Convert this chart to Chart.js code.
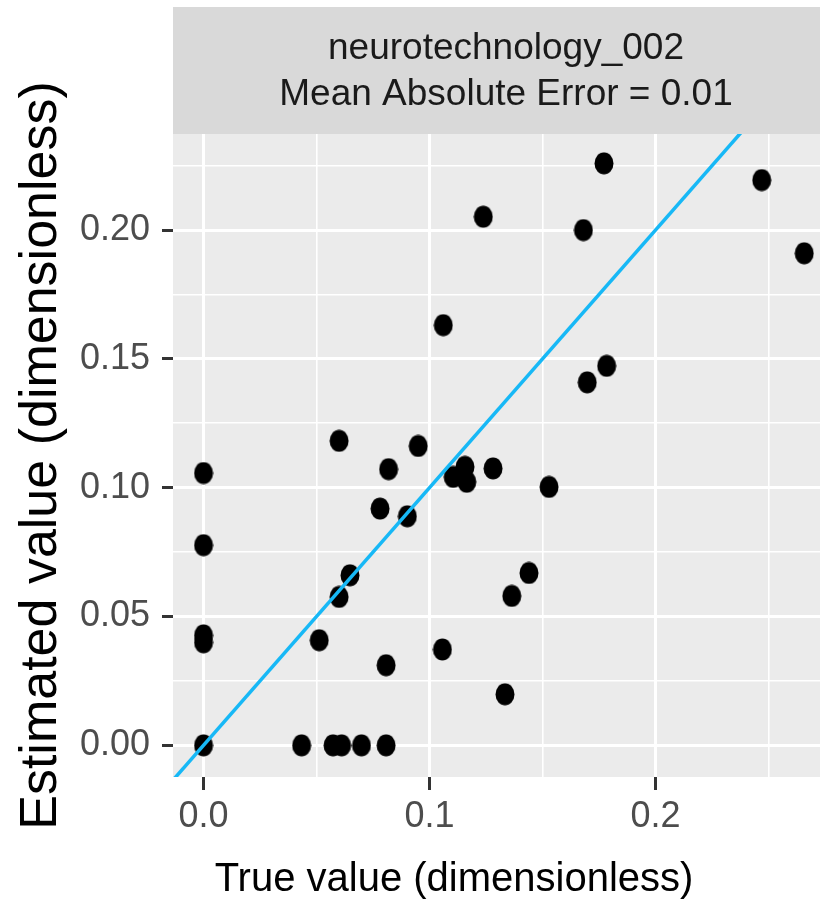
<!DOCTYPE html>
<html>
<head>
<meta charset="utf-8">
<script src="https://cdn.jsdelivr.net/npm/chart.js@4/dist/chart.umd.min.js"></script>
<style>
  html, body { margin: 0; padding: 0; background: #ffffff; overflow: hidden; width: 820px; height: 904px; }
  #wrap { width: 850px; height: 904px; }
</style>
</head>
<body>
<div id="wrap"><canvas id="chart" width="850" height="904"></canvas></div>
<script>
// Facet strip and axis titles
const facetTitle = 'neurotechnology_002';
const facetSubtitle = 'Mean Absolute Error = 0.01';
const xTitle = 'True value (dimensionless)';
const yTitle = 'Estimated value (dimensionless)';

// Observations: true value vs. estimated value
const trueValues = [
  0.1772, 0.2470, 0.2658, 0.1238, 0.1681, 0.1061, 0.1784, 0.1698, 0.0600, 0.0950,
  0.0000, 0.0819, 0.1157, 0.1105, 0.1165, 0.1281, 0.1529, 0.0781, 0.0902, 0.0000,
  0.0648, 0.0600, 0.1440, 0.1364, 0.0000, 0.0000, 0.0512, 0.0808, 0.1057, 0.1334,
  0.0000, 0.0434, 0.0573, 0.0611, 0.0699, 0.0808
];
const estimatedValues = [
  0.2259, 0.2194, 0.1910, 0.2052, 0.2000, 0.1631, 0.1473, 0.1409, 0.1182, 0.1162,
  0.1057, 0.1072, 0.1081, 0.1042, 0.1023, 0.1075, 0.1003, 0.0919, 0.0889, 0.0777,
  0.0660, 0.0576, 0.0669, 0.0580, 0.0427, 0.0400, 0.0408, 0.0311, 0.0372, 0.0198,
  0.0000, 0.0000, 0.0000, 0.0000, 0.0000, 0.0000
];

// Axis ticks (major ones are labelled, minor ones only get a thin grid line)
const xMajorTicks = [0, 0.1, 0.2];
const xMinorTicks = [0.05, 0.15, 0.25];
const yMajorTicks = [0, 0.05, 0.1, 0.15, 0.2];
const yMinorTicks = [0.025, 0.075, 0.125, 0.175, 0.225];
const xLimits = [-0.0135, 0.2812];
const yLimits = [-0.0123, 0.2373];

// End points of the y = x reference line (clipped to the panel)
const identityRange = [-0.05, 0.35];

const FONT = 'Liberation Sans';

// Round marker, slightly taller than wide
function makeMarker(w, h, color) {
  const c = document.createElement('canvas');
  c.width = w; c.height = h;
  const g = c.getContext('2d');
  g.fillStyle = color;
  g.beginPath();
  g.ellipse(w / 2, h / 2, w / 2 - 0.5, h / 2 - 0.5, 0, 0, Math.PI * 2);
  g.fill();
  return c;
}
const marker = makeMarker(20, 23, '#000000');

function tickList(major, minor) {
  return major.concat(minor).sort((a, b) => a - b).map(v => ({ value: v }));
}

// Grey panel, facet strip with its two-line label, and the x-axis title
const panelAndStrip = {
  id: 'panelAndStrip',
  beforeDraw(chart) {
    const { ctx, chartArea: a } = chart;
    ctx.save();
    ctx.fillStyle = '#ebebeb';
    ctx.fillRect(a.left, a.top, a.right - a.left, a.bottom - a.top);
    const stripTop = a.top - 127;
    ctx.fillStyle = '#d9d9d9';
    ctx.fillRect(a.left, stripTop, a.right - a.left, a.top - stripTop);
    ctx.fillStyle = '#1a1a1a';
    ctx.font = '37px "' + FONT + '"';
    ctx.textAlign = 'center';
    ctx.textBaseline = 'middle';
    const cx = (a.left + a.right) / 2;
    ctx.fillText(facetTitle, cx, a.top - 85);
    ctx.fillText(facetSubtitle, cx, a.top - 39);

    ctx.fillStyle = '#000000';
    ctx.font = '40px "' + FONT + '"';
    ctx.fillText(xTitle, a.left + 281, chart.height - 24);
    ctx.restore();
  }
};

function gridOptions(major, tickLength) {
  const isMajor = c => c.tick && major.includes(c.tick.value);
  return {
    color: '#ffffff',
    lineWidth: c => isMajor(c) ? 3 : 1.6,
    drawTicks: true,
    tickLength: tickLength,
    tickWidth: c => isMajor(c) ? 3 : 0,
    tickColor: c => isMajor(c) ? '#333333' : 'rgba(0,0,0,0)'
  };
}

new Chart(document.getElementById('chart'), {
  type: 'scatter',
  data: {
    datasets: [
      {
        type: 'line',
        data: identityRange.map(v => ({ x: v, y: v })),
        borderColor: '#17b8f6',
        borderWidth: 3.5,
        pointRadius: 0,
        fill: false,
        order: 0
      },
      {
        type: 'scatter',
        data: trueValues.map((x, i) => ({ x: x, y: estimatedValues[i] })),
        pointStyle: marker,
        pointRadius: 10,
        backgroundColor: '#000000',
        borderColor: '#000000',
        order: 1
      }
    ]
  },
  options: {
    responsive: false,
    animation: false,
    devicePixelRatio: 1,
    events: [],
    layout: { padding: { top: 134, left: 0, right: 1, bottom: 0 } },
    plugins: { legend: { display: false }, tooltip: { enabled: false } },
    scales: {
      x: {
        type: 'linear',
        min: xLimits[0],
        max: xLimits[1],
        afterBuildTicks: s => { s.ticks = tickList(xMajorTicks, xMinorTicks); },
        afterFit: s => { s.height = 127; },
        border: { display: false },
        grid: gridOptions(xMajorTicks, 13),
        ticks: {
          autoSkip: false,
          maxRotation: 0,
          padding: 5,
          color: '#4d4d4d',
          font: { family: FONT, size: 36 },
          callback: v => xMajorTicks.includes(v) ? v.toFixed(1) : ''
        },
        title: { display: false }
      },
      y: {
        type: 'linear',
        min: yLimits[0],
        max: yLimits[1],
        afterBuildTicks: s => { s.ticks = tickList(yMajorTicks, yMinorTicks); },
        afterFit: s => { s.width = 173; },
        border: { display: false },
        grid: gridOptions(yMajorTicks, 11),
        ticks: {
          autoSkip: false,
          padding: 12,
          color: '#4d4d4d',
          font: { family: FONT, size: 36 },
          callback: v => yMajorTicks.includes(v) ? v.toFixed(2) : ''
        },
        title: {
          display: true,
          text: yTitle,
          color: '#000000',
          font: { family: FONT, size: 52, lineHeight: 1 },
          padding: { top: 16, bottom: 0 }
        }
      }
    }
  },
  plugins: [panelAndStrip]
});
</script>
</body>
</html>
